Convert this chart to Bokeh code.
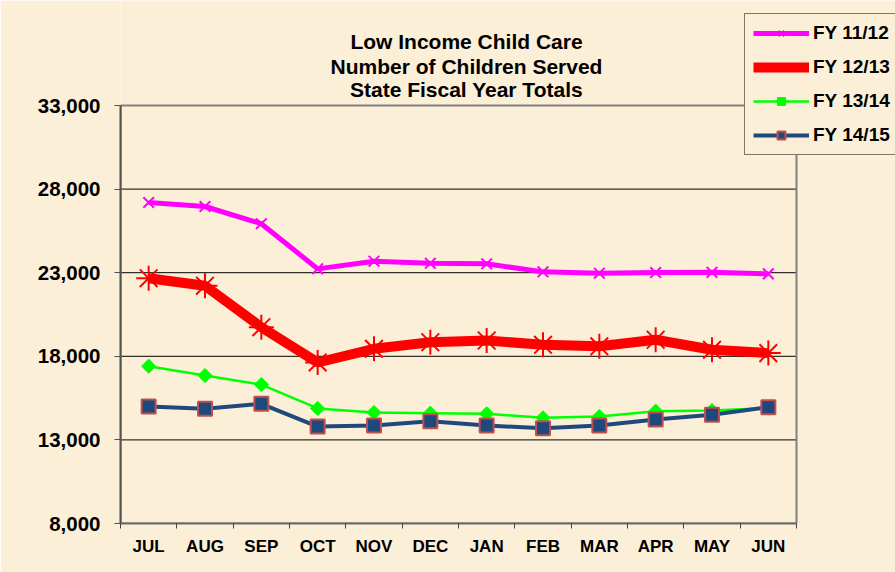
from bokeh.plotting import figure
from bokeh.models import (Range1d, FixedTicker, NumeralTickFormatter, Legend,
                          LegendItem, Label)
from bokeh.embed import file_html
from bokeh.resources import INLINE
import numpy as np

months = ["JUL", "AUG", "SEP", "OCT", "NOV", "DEC", "JAN", "FEB", "MAR", "APR", "MAY", "JUN"]
fy_11_12 = [27200, 26960, 25930, 23230, 23690, 23560, 23530, 23050, 22970, 23010, 23020, 22930]
fy_12_13 = [22670, 22220, 19740, 17630, 18450, 18840, 18945, 18690, 18600, 18990, 18390, 18190]
fy_13_14 = [17410, 16850, 16310, 14880, 14640, 14600, 14560, 14320, 14400, 14720, 14760, 14900]
fy_14_15 = [15000, 14860, 15160, 13800, 13860, 14120, 13860, 13700, 13860, 14220, 14500, 14960]
y_ticks = [8000, 13000, 18000, 23000, 28000, 33000]
title_lines = ["Low Income Child Care", "Number of Children Served", "State Fiscal Year Totals"]

BG = "#FBEFD8"
FONT = "Liberation Sans"

n = len(months)
x = [i + 0.5 for i in range(n)]
y0, y1 = y_ticks[0], y_ticks[-1]

# the drawing area reaches to the top and right of the page, so that the title and legend
# (which overlap the page edge in the reference) are not clipped; the plot box is bounded.
px_per_cat = 676 / n
px_per_val = 418 / (y1 - y0)
p = figure(width=895, height=572, output_backend="svg", toolbar_location=None,
           x_range=Range1d(0, n + 99 / px_per_cat),
           y_range=Range1d(y0, y1 + 105 / px_per_val),
           min_border_left=120, min_border_right=0, min_border_top=0, min_border_bottom=49)
p.background_fill_color = BG
p.border_fill_color = BG
p.outline_line_color = None

# horizontal grid lines, limited to the plot box
inner = y_ticks[1:-1]
p.segment(x0=[0] * len(inner), x1=[n] * len(inner), y0=inner, y1=inner,
          line_color="black", line_width=1)
# plot box
p.quad(left=0, right=n, bottom=y0, top=y1, fill_color=None,
       line_color="#808080", line_width=2)

# axes
p.xaxis.bounds = (0, n)
p.xaxis.ticker = FixedTicker(ticks=x, minor_ticks=list(range(n + 1)))
p.xaxis.major_label_overrides = {v: m for v, m in zip(x, months)}
p.xaxis.major_tick_out = 0
p.xaxis.major_tick_in = 0
p.xaxis.minor_tick_out = 5
p.xaxis.minor_tick_in = 0
p.xaxis.minor_tick_line_color = "#404040"
p.xaxis.axis_line_color = "#6a6a6a"
p.xaxis.axis_line_width = 2
p.xaxis.major_label_standoff = 8
p.xaxis.major_label_text_font = FONT
p.xaxis.major_label_text_font_style = "bold"
p.xaxis.major_label_text_font_size = "17px"
p.xaxis.major_label_text_color = "black"

p.yaxis.bounds = (y0, y1)
p.yaxis.ticker = FixedTicker(ticks=y_ticks)
p.yaxis.formatter = NumeralTickFormatter(format="0,0")
p.yaxis.major_tick_out = 6
p.yaxis.major_tick_in = 0
p.yaxis.minor_tick_out = 0
p.yaxis.minor_tick_in = 0
p.yaxis.major_tick_line_color = "#505050"
p.yaxis.axis_line_color = "#505050"
p.yaxis.axis_line_width = 2
p.yaxis.major_label_standoff = 14
p.yaxis.major_label_text_font = FONT
p.yaxis.major_label_text_font_style = "bold"
p.yaxis.major_label_text_font_size = "20.5px"
p.yaxis.major_label_text_color = "black"

p.xgrid.grid_line_color = None
p.ygrid.grid_line_color = None

# series
l1 = p.line(x, fy_11_12, line_color="#FF00FF", line_width=5)
m1 = p.scatter(x, fy_11_12, marker="x", size=15, line_color="#FF00FF", line_width=2)
l2 = p.line(x, fy_12_13, line_color="#FF0000", line_width=10)
m2 = p.scatter(x, fy_12_13, marker="asterisk", size=25, line_color="#FF0000", line_width=2)
l3 = p.line(x, fy_13_14, line_color="#00FF00", line_width=2.5)
m3 = p.scatter(x, fy_13_14, marker="square", angle=np.pi / 4, size=10,
               fill_color="#00FF00", line_color="#00FF00", line_width=1)
l4 = p.line(x, fy_14_15, line_color="#1F497D", line_width=4)
m4 = p.scatter(x, fy_14_15, marker="square", size=14, fill_color="#1F497D",
               line_color="#C0504D", line_width=2)

legend = Legend(items=[
    LegendItem(label="FY 11/12", renderers=[l1, m1]),
    LegendItem(label="FY 12/13", renderers=[l2, m2]),
    LegendItem(label="FY 13/14", renderers=[l3, m3]),
    LegendItem(label="FY 14/15", renderers=[l4, m4]),
], location=(624, 368))
legend.background_fill_color = BG
legend.background_fill_alpha = 1
legend.border_line_color = "black"
legend.border_line_width = 1
legend.padding = 8
legend.spacing = 12
legend.margin = 0
legend.glyph_width = 56
legend.glyph_height = 20
legend.label_height = 20
legend.label_standoff = 4
legend.label_text_font = FONT
legend.label_text_font_style = "bold"
legend.label_text_font_size = "19px"
legend.label_text_color = "black"
p.add_layout(legend, "center")

for line, yy in zip(title_lines, [482, 457, 434]):
    p.add_layout(Label(x=346, y=yy, x_units="screen", y_units="screen", text=line,
                       text_align="center", text_baseline="alphabetic",
                       text_font=FONT, text_font_style="bold", text_font_size="21px",
                       text_color="black"))

open("out.html", "w").write(file_html(p, INLINE))
